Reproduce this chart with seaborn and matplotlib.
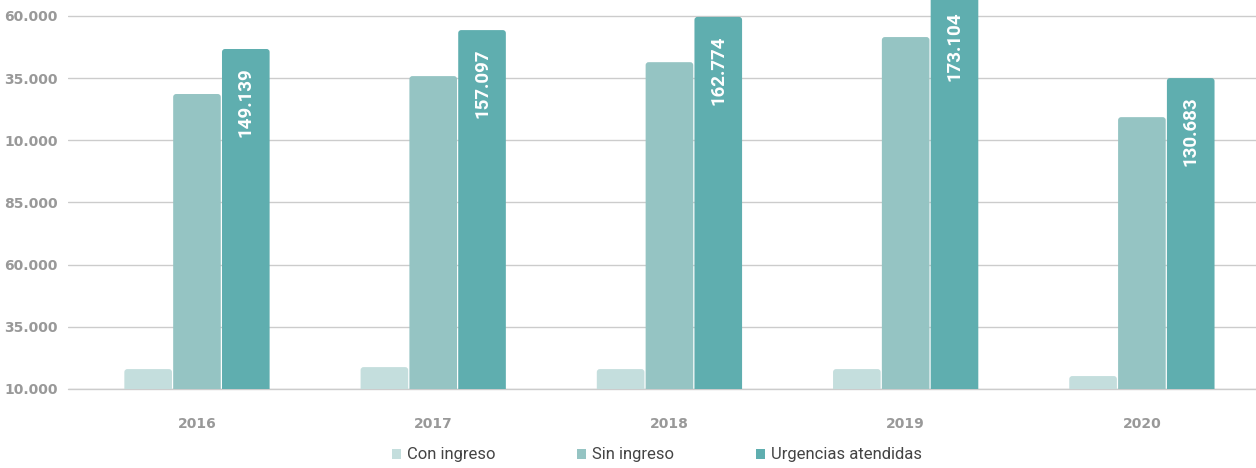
import numpy as np
import pandas as pd
import matplotlib
matplotlib.use("Agg")
import matplotlib.pyplot as plt
from matplotlib.patches import FancyBboxPatch, Patch
import seaborn as sns

# ---- data ----
years = ["2016", "2017", "2018", "2019", "2020"]
series = ["Con ingreso", "Sin ingreso", "Urgencias atendidas"]
con_ingreso = [18000, 18800, 18000, 18000, 15200]
sin_ingreso = [128600, 135800, 141400, 151500, 119300]
urgencias = [146700, 154300, 159600, 169500, 135000]
urg_labels = ["149.139", "157.097", "162.774", "173.104", "130.683"]
y_ticks = [10000, 35000, 60000, 85000, 110000, 135000, 160000]
# tick texts exactly as they appear in the reference
y_ticklabels = ["10.000", "35.000", "60.000", "85.000", "10.000", "35.000", "60.000"]

colors = ["#C4DEDD", "#95C4C3", "#5FAEAF"]

df = pd.DataFrame({
    "year": years * 3,
    "serie": [series[0]] * 5 + [series[1]] * 5 + [series[2]] * 5,
    "value": con_ingreso + sin_ingreso + urgencias,
})

sns.set_theme(style="white")
plt.rcParams["font.family"] = ["DejaVu Sans"]

W, H = 1256, 468
fig = plt.figure(figsize=(W / 100, H / 100), dpi=100)
ax = fig.add_axes([68 / W, (H - 389) / H, (W - 68) / W, 389 / H])

sns.barplot(data=df, x="year", y="value", hue="serie", order=years,
            hue_order=series, palette=colors, width=0.62, gap=0.0,
            linewidth=0, saturation=1, legend=False, ax=ax)

ax.set_xlim(-0.546, 4.483)
ax.set_ylim(10000, 166400)

# rounded bars
xpx = 1188 / (4.483 + 0.546)
ypx = 389 / (166400 - 10000)
aspect = (1 / ypx) / (1 / xpx)
r = 3 / xpx
bars = list(ax.patches)
for p in bars:
    x, y = p.get_x(), p.get_y()
    w, h = p.get_width(), p.get_height()
    if h <= 0:
        continue
    pad = 0.6 / xpx
    fb = FancyBboxPatch((x + pad, y), w - 2 * pad, h,
                        boxstyle=f"round,pad=0,rounding_size={r}",
                        mutation_aspect=aspect,
                        facecolor=p.get_facecolor(), edgecolor="none",
                        zorder=3)
    ax.add_patch(fb)
    p.set_visible(False)

# value labels on Urgencias bars
urg_bars = [p for p in bars if np.allclose(p.get_facecolor()[:3], matplotlib.colors.to_rgb(colors[2]))]
urg_bars.sort(key=lambda p: p.get_x())
for p, lab in zip(urg_bars, urg_labels):
    cx = p.get_x() + p.get_width() / 2
    top = p.get_height() + p.get_y()
    ax.annotate(lab, xy=(cx, min(top, 10000 + 397 * 402.1)), xytext=(0, -13.5),
                textcoords="offset points", rotation=90, ha="center", va="top",
                color="white", fontsize=13.5, fontweight="bold",
                family="Roboto", zorder=5, annotation_clip=False)

# axes styling
for s in ax.spines.values():
    s.set_visible(False)
ax.set_yticks(y_ticks)
ax.set_yticklabels(y_ticklabels)
ax.grid(axis="y", color="#CCCCCC", linewidth=1.0, zorder=0)
ax.axhline(10000, color="#CCCCCC", linewidth=1.0, zorder=0.5, clip_on=False)
ax.set_axisbelow(True)
ax.tick_params(axis="y", length=0, pad=7.5, labelsize=10, labelcolor="#999999")
ax.tick_params(axis="x", length=0, pad=20, labelsize=10, labelcolor="#999999")
for t in ax.get_yticklabels() + ax.get_xticklabels():
    t.set_fontweight("bold")
ax.set_xlabel("")
ax.set_ylabel("")

handles = [Patch(facecolor=c, edgecolor="none", label=s) for c, s in zip(colors, series)]
fig.legend(handles=handles, loc="center", bbox_to_anchor=(657 / W, 1 - 455 / H),
           ncol=3, frameon=False,
           prop={"family": "Roboto", "size": 12},
           handlelength=0.55, handleheight=0.55, handletextpad=0.35,
           columnspacing=4.9, labelcolor="#444444")

fig.savefig("out.png", dpi=100)
